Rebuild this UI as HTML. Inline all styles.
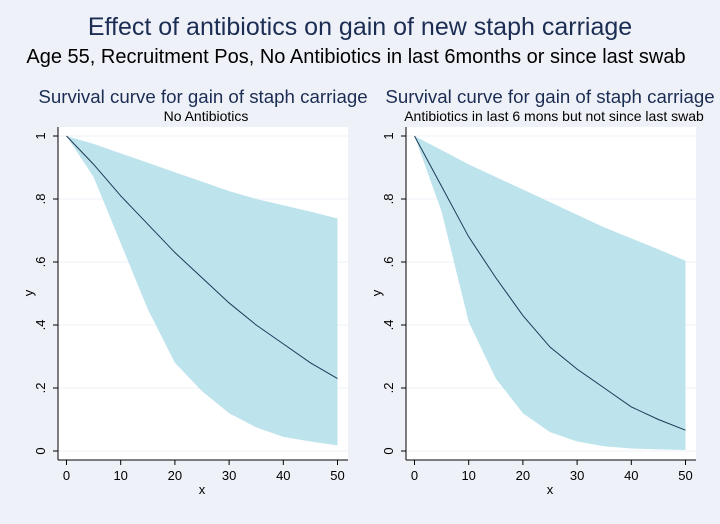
<!DOCTYPE html>
<html><head><meta charset="utf-8"><style>
body{margin:0;background:#eef2f8;}
svg{display:block;font-family:"Liberation Sans",sans-serif;}
</style></head><body>
<svg id="chart" width="720" height="524" viewBox="0 0 720 524" xmlns="http://www.w3.org/2000/svg">
<rect width="720" height="524" fill="#eef2f8"/>
<text x="360" y="35" text-anchor="middle" font-size="25" fill="#1c2d54">Effect of antibiotics on gain of new staph carriage</text>
<text x="356" y="63" text-anchor="middle" font-size="20" fill="#000">Age 55, Recruitment Pos, No Antibiotics in last 6months or since last swab</text>
<g id="panels"></g>
</svg>
<script>
const xs = [0,5,10,15,20,25,30,35,40,45,50];
const leftMean  = [1,.91,.81,.72,.63,.55,.47,.40,.34,.28,.23];
const leftLower = [1,.87,.66,.45,.28,.19,.12,.075,.045,.03,.018];
const leftUpper = [1,.975,.945,.915,.885,.855,.825,.80,.78,.76,.738];
const rightMean  = [1,.84,.68,.55,.43,.33,.26,.20,.14,.10,.066];
const rightLower = [1,.76,.41,.23,.12,.06,.03,.015,.008,.005,.003];
const rightUpper = [1,.955,.91,.87,.83,.79,.75,.71,.675,.64,.604];
const xTicks = [0,10,20,30,40,50];
const yTicks = [0,.2,.4,.6,.8,1];
const yTickLabels = ["0",".2",".4",".6",".8","1"];

const NS="http://www.w3.org/2000/svg";
const root=document.getElementById('panels');
function mk(tag,attrs,parent){const e=document.createElementNS(NS,tag);for(const k in attrs)e.setAttribute(k,attrs[k]);(parent||root).appendChild(e);return e;}

function panel(name,ox,title,sub,mean,lower,upper,clipW,titleX){
  const g=mk('g',{});
  
  
  const x0=ox+8.5, x1=ox+279.5;
  const sx=v=>x0+(x1-x0)*v/50;
  const sy=v=>451-315*v;
  const cid=name+'-clip';
  const cp=mk('clipPath',{id:cid},g); mk('rect',{x:ox-60,y:80,width:clipW,height:30},cp);
  const t=mk('text',{x:titleX,y:103,'text-anchor':'middle','font-size':18.7,fill:'#1c2d54','clip-path':'url(#'+cid+')'},g);
  t.textContent=title;
  
  
  const s=mk('text',{x:ox+148,y:121,'text-anchor':'middle','font-size':14,fill:'#000'},g);
  s.textContent=sub;
  
  
  const bg=mk('rect',{x:ox,y:127,width:290,height:333,fill:'#fff'},g);
  
  
  yTicks.forEach((v,i)=>{
    const gl=mk('line',{x1:ox,x2:ox+290,y1:sy(v),y2:sy(v),stroke:'#eef2f8','stroke-width':1},g);
    
    
  });
  let d='M'+xs.map((x,i)=>sx(x)+','+sy(upper[i])).join('L');
  for(let i=xs.length-1;i>=0;i--) d+='L'+sx(xs[i])+','+sy(lower[i]);
  const band=mk('path',{d:d+'Z',fill:'#bde3ed'},g);
  
  
  const ln=mk('polyline',{points:xs.map((x,i)=>sx(x)+','+sy(mean[i])).join(' '),fill:'none',stroke:'#1e3a56','stroke-width':1},g);
  
  
  const ya=mk('line',{x1:ox,x2:ox,y1:127,y2:460,stroke:'#000','stroke-width':1},g);
  
  
  const xa=mk('line',{x1:ox,x2:ox+290,y1:460,y2:460,stroke:'#000','stroke-width':1},g);
  
  
  yTicks.forEach((v,i)=>{
    mk('line',{x1:ox-5,x2:ox,y1:sy(v),y2:sy(v),stroke:'#000'},g);
    const tl=mk('text',{x:0,y:0,'text-anchor':'middle','font-size':13,fill:'#000',transform:`translate(${ox-13},${sy(v)}) rotate(-90)`},g);
    tl.textContent=yTickLabels[i];
    
    
  });
  xTicks.forEach(v=>{
    mk('line',{x1:sx(v),x2:sx(v),y1:460,y2:465,stroke:'#000'},g);
    const tl=mk('text',{x:sx(v),y:480,'text-anchor':'middle','font-size':13,fill:'#000'},g);
    tl.textContent=String(v);
    
    
  });
  const yl=mk('text',{x:0,y:0,'text-anchor':'middle','font-size':13,transform:`translate(${ox-25},293) rotate(-90)`},g);
  yl.textContent='y';
  
  
  const xl=mk('text',{x:ox+144,y:494,'text-anchor':'middle','font-size':13},g);
  xl.textContent='x';
  
  
}
panel('panel-no-antibiotics',58,'Survival curve for gain of staph carriage','No Antibiotics',leftMean,leftLower,leftUpper,420,203);
panel('panel-antibiotics',406,'Survival curve for gain of staph carriage','Antibiotics in last 6 mons but not since last swab',rightMean,rightLower,rightUpper,400,550);
</script>
</body></html>
